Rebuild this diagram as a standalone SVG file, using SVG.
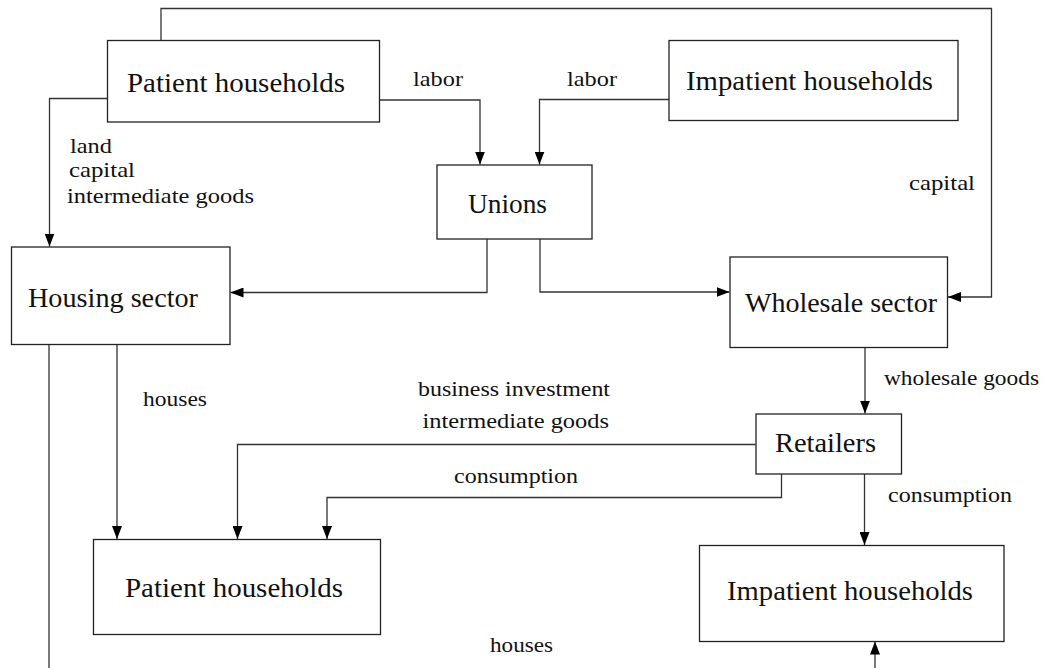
<svg xmlns="http://www.w3.org/2000/svg" width="1045" height="668" viewBox="0 0 1045 668">
<style>
.box{fill:#fff;stroke:#222;stroke-width:1.3}
.big{font-size:27px;fill:#111}
.sm{font-size:21px;fill:#111}
.con path{fill:none;stroke:#333;stroke-width:1.3}
</style>
<defs>
<marker id="ah" markerUnits="userSpaceOnUse" markerWidth="13" markerHeight="10" refX="13" refY="5" orient="auto">
<path d="M0,0 L13,5 L0,10 z" fill="#000"/>
</marker>
</defs>
<rect width="1045" height="668" fill="#fff"/>
<g class="con" id="connectors" font-family="Liberation Serif, DejaVu Serif, serif">
<path d="M161,40 V8.5 H991.5 V297 H948" marker-end="url(#ah)"/>
<path d="M108,98.5 H49.5 V246.5" marker-end="url(#ah)"/>
<path d="M379.5,100 H480 V164.5" marker-end="url(#ah)"/>
<path d="M669,99.5 H539.5 V164.5" marker-end="url(#ah)"/>
<path d="M487,239 V292.5 H230.5" marker-end="url(#ah)"/>
<path d="M540,239 V292 H729.5" marker-end="url(#ah)"/>
<path d="M865,348 V413.5" marker-end="url(#ah)"/>
<path d="M117,344.5 V539" marker-end="url(#ah)"/>
<path d="M755.5,444.5 H237.5 V539" marker-end="url(#ah)"/>
<path d="M781.5,474 V497.5 H327 V539" marker-end="url(#ah)"/>
<path d="M864.5,474 V545" marker-end="url(#ah)"/>
<path d="M49,344.5 V700 H875 V641.5" marker-end="url(#ah)"/>
<text class="sm" x="413" y="86" textLength="50" lengthAdjust="spacingAndGlyphs">labor</text>
<text class="sm" x="567" y="86" textLength="50" lengthAdjust="spacingAndGlyphs">labor</text>
<text class="sm" x="70" y="153" textLength="42" lengthAdjust="spacingAndGlyphs">land</text>
<text class="sm" x="69" y="177" textLength="66" lengthAdjust="spacingAndGlyphs">capital</text>
<text class="sm" x="67" y="203" textLength="187" lengthAdjust="spacingAndGlyphs">intermediate goods</text>
<text class="sm" x="909" y="190" textLength="66" lengthAdjust="spacingAndGlyphs">capital</text>
<text class="sm" x="143" y="406" textLength="64" lengthAdjust="spacingAndGlyphs">houses</text>
<text class="sm" x="418" y="396" textLength="192" lengthAdjust="spacingAndGlyphs">business investment</text>
<text class="sm" x="422.5" y="428" textLength="186.5" lengthAdjust="spacingAndGlyphs">intermediate goods</text>
<text class="sm" x="454" y="483" textLength="124" lengthAdjust="spacingAndGlyphs">consumption</text>
<text class="sm" x="884" y="385" textLength="155" lengthAdjust="spacingAndGlyphs">wholesale goods</text>
<text class="sm" x="888" y="502" textLength="124" lengthAdjust="spacingAndGlyphs">consumption</text>
<text class="sm" x="490" y="652" textLength="63" lengthAdjust="spacingAndGlyphs">houses</text>
</g>
<g font-family="Liberation Serif, DejaVu Serif, serif">
<g id="patient_top"><rect class="box" x="107.5" y="40.5" width="272" height="81.5"/><text class="big" x="127" y="92" textLength="218" lengthAdjust="spacingAndGlyphs">Patient households</text></g>
<g id="impatient_top"><rect class="box" x="669" y="40.5" width="289" height="80"/><text class="big" x="686" y="90" textLength="247" lengthAdjust="spacingAndGlyphs">Impatient households</text></g>
<g id="unions"><rect class="box" x="437" y="165" width="155" height="74"/><text class="big" x="468" y="212.5" textLength="79" lengthAdjust="spacingAndGlyphs">Unions</text></g>
<g id="housing"><rect class="box" x="11.5" y="247" width="218.5" height="97.5"/><text class="big" x="28" y="306.5" textLength="170" lengthAdjust="spacingAndGlyphs">Housing sector</text></g>
<g id="wholesale"><rect class="box" x="730" y="257" width="217.5" height="90.5"/><text class="big" x="745" y="311.5" textLength="192" lengthAdjust="spacingAndGlyphs">Wholesale sector</text></g>
<g id="retailers"><rect class="box" x="756" y="414" width="145.5" height="60"/><text class="big" x="775" y="452" textLength="101" lengthAdjust="spacingAndGlyphs">Retailers</text></g>
<g id="patient_bottom"><rect class="box" x="93.5" y="539.5" width="287" height="95"/><text class="big" x="125" y="596.5" textLength="218" lengthAdjust="spacingAndGlyphs">Patient households</text></g>
<g id="impatient_bottom"><rect class="box" x="699.5" y="545.5" width="304.5" height="96"/><text class="big" x="727" y="600" textLength="246" lengthAdjust="spacingAndGlyphs">Impatient households</text></g>
</g>
</svg>
